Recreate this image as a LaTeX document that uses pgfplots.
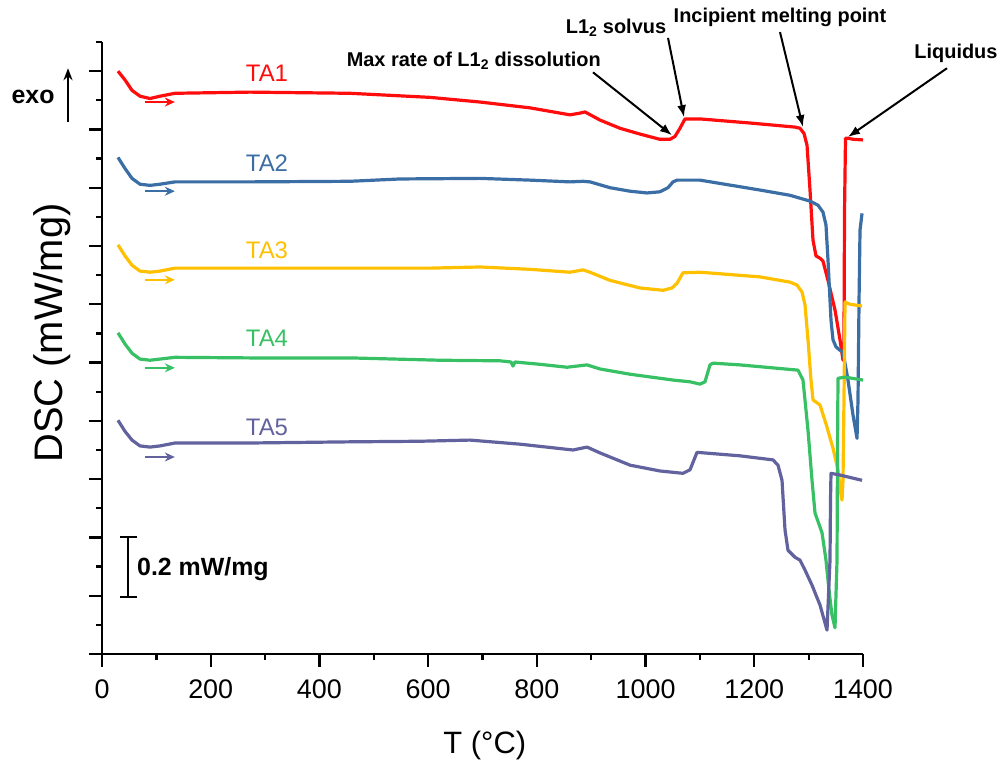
\documentclass[border=0pt]{standalone}
\usepackage{fontspec}
\setmainfont{Liberation Sans}
\usepackage{pgfplots}
\pgfplotsset{compat=1.18}
\usetikzlibrary{arrows.meta}
\definecolor{cA}{HTML}{FF0D0D}
\definecolor{cB}{HTML}{3A6EA5}
\definecolor{cC}{HTML}{FFC000}
\definecolor{cD}{HTML}{38C064}
\definecolor{cE}{HTML}{62629F}
\begin{document}
\begin{tikzpicture}
\useasboundingbox (0,0) rectangle (1005bp,765bp);
\begin{axis}[
 at={(102bp,111bp)}, anchor=south west,
 scale only axis, width=761bp, height=612bp,
 xmin=0, xmax=1400, ymin=0, ymax=10.5,
 axis x line*=bottom, axis y line*=left,
 axis line style={line width=2.4bp, black},
 xtick={0,200,...,1400}, minor xtick={100,300,...,1300},
 ytick={0,...,10}, minor ytick={0.5,1.5,...,10.5},
 yticklabels={},
 tick align=outside,
 major tick length=13bp, minor tick length=6bp,
 every tick/.style={line width=2.3bp, black},
 tick label style={font=\fontsize{27}{32}\selectfont},
 xticklabel style={yshift=-9bp},
 /pgf/number format/assume math mode=true,
 /pgf/number format/1000 sep={},
 clip=false,
 xlabel={T (°C)},
 xlabel style={at={(axis description cs:0.503,-0.149)}, anchor=center, font=\fontsize{31}{36}\selectfont},
 ylabel={DSC (mW/mg)},
 ylabel style={at={(axis description cs:-0.0657,0.5245)}, anchor=center, font=\fontsize{40}{44}\selectfont},
 every axis plot/.append style={no markers, line width=3.2bp, line join=round},
]
% TA1
\addplot[cA] coordinates {(29.4,10.00)(42.3,9.85)(55.2,9.67)(69.9,9.57)(88.3,9.53)(106.7,9.57)(134.3,9.62)(272.3,9.64)(456.2,9.62)(603.4,9.55)(695.4,9.47)(787.4,9.37)(861.0,9.25)(879.4,9.28)(888.6,9.30)(916.2,9.16)(952.9,9.02)(989.7,8.92)(1026.5,8.83)(1044.9,8.83)(1054.1,8.88)(1063.3,9.02)(1072.5,9.18)(1100.1,9.18)(1192.1,9.11)(1274.9,9.04)(1284.1,9.02)(1291.5,8.93)(1297.0,8.73)(1302.5,7.96)(1308.0,7.10)(1313.5,6.83)(1320.9,6.79)(1326.4,6.74)(1335.6,6.41)(1348.5,5.90)(1357.7,5.39)(1363.2,5.04)(1365.0,5.40)(1366.0,7.60)(1367.8,8.85)(1371.5,8.85)(1382.5,8.83)(1400,8.82)};
% TA2
\addplot[cB] coordinates {(29.4,8.52)(42.3,8.33)(55.2,8.16)(69.9,8.06)(88.3,8.04)(106.7,8.06)(134.3,8.10)(272.3,8.10)(456.2,8.11)(548.2,8.15)(695.4,8.16)(787.4,8.13)(861.0,8.10)(884.9,8.11)(897.8,8.10)(934.6,8.00)(971.4,7.94)(1002.6,7.91)(1026.5,7.93)(1041.2,8.00)(1050.5,8.10)(1057.8,8.13)(1100.1,8.13)(1210.5,7.96)(1265.7,7.87)(1302.5,7.77)(1317.2,7.70)(1326.4,7.58)(1331.9,7.36)(1335.6,6.76)(1341.1,5.73)(1344.8,5.39)(1350.3,5.27)(1357.7,5.21)(1363.2,5.18)(1372.4,4.70)(1381.6,4.10)(1389.0,3.70)(1390.8,4.36)(1392.7,6.07)(1394.5,7.27)(1398.2,7.56)};
% TA3
\addplot[cC] coordinates {(29.4,7.02)(42.3,6.83)(55.2,6.67)(69.9,6.57)(88.3,6.55)(106.7,6.57)(134.3,6.62)(272.3,6.62)(456.2,6.62)(603.4,6.62)(695.4,6.64)(787.4,6.60)(861.0,6.55)(884.9,6.59)(897.8,6.55)(934.6,6.41)(989.7,6.28)(1032.1,6.24)(1048.6,6.28)(1057.8,6.36)(1068.8,6.54)(1100.1,6.55)(1210.5,6.47)(1265.7,6.38)(1278.6,6.33)(1287.8,6.21)(1293.3,5.99)(1298.8,5.39)(1304.3,4.70)(1308.0,4.36)(1315.4,4.31)(1320.9,4.27)(1331.9,3.95)(1344.8,3.53)(1354.0,3.16)(1359.5,2.73)(1361.4,2.64)(1363.2,2.98)(1365.0,4.36)(1366.9,6.04)(1376.1,6.00)(1398.2,5.97)};
% TA4
\addplot[cD] coordinates {(29.4,5.51)(42.3,5.32)(55.2,5.16)(69.9,5.06)(88.3,5.04)(106.7,5.06)(134.3,5.09)(272.3,5.08)(456.2,5.08)(621.8,5.04)(732.2,5.03)(752.4,5.01)(756.1,4.94)(759.8,5.01)(805.8,4.97)(855.5,4.92)(892.3,4.96)(916.2,4.89)(971.4,4.80)(1050.5,4.70)(1081.8,4.67)(1100.1,4.63)(1109.3,4.67)(1118.5,4.96)(1124.0,4.99)(1173.7,4.96)(1280.4,4.87)(1289.6,4.70)(1298.8,3.84)(1306.2,2.98)(1311.7,2.42)(1324.6,2.08)(1331.9,1.61)(1337.4,1.10)(1342.9,0.67)(1348.5,0.45)(1352.2,1.61)(1353.1,3.50)(1354.0,4.73)(1366.9,4.75)(1400,4.70)};
% TA5
\addplot[cE] coordinates {(29.4,4.01)(42.3,3.82)(55.2,3.67)(69.9,3.57)(88.3,3.55)(106.7,3.57)(134.3,3.62)(272.3,3.62)(456.2,3.64)(585.0,3.65)(677.0,3.67)(769.0,3.60)(866.5,3.50)(892.3,3.55)(916.2,3.45)(971.4,3.24)(1026.5,3.14)(1068.8,3.10)(1081.8,3.16)(1094.6,3.46)(1173.7,3.40)(1234.4,3.33)(1243.6,3.24)(1251.0,2.98)(1256.5,2.13)(1262.0,1.78)(1274.9,1.66)(1284.1,1.61)(1293.3,1.44)(1306.2,1.18)(1320.9,0.84)(1333.8,0.41)(1339.3,1.61)(1340.2,2.64)(1341.1,3.10)(1357.7,3.07)(1398.2,2.98)};
% direction arrows
\addplot[cA, line width=2.2bp, -{Stealth[length=10bp,width=9bp]}] coordinates {(79,9.47)(134,9.47)};
\addplot[cB, line width=2.2bp, -{Stealth[length=10bp,width=9bp]}] coordinates {(79,7.94)(134,7.94)};
\addplot[cC, line width=2.2bp, -{Stealth[length=10bp,width=9bp]}] coordinates {(79,6.42)(134,6.42)};
\addplot[cD, line width=2.2bp, -{Stealth[length=10bp,width=9bp]}] coordinates {(79,4.91)(134,4.91)};
\addplot[cE, line width=2.2bp, -{Stealth[length=10bp,width=9bp]}] coordinates {(79,3.38)(134,3.38)};
% labels
\node[text=cA, font=\fontsize{24}{28}\selectfont] at (axis cs:303.5,9.97) {TA1};
\node[text=cB, font=\fontsize{24}{28}\selectfont] at (axis cs:303.5,8.42) {TA2};
\node[text=cC, font=\fontsize{24}{28}\selectfont] at (axis cs:303.5,6.93) {TA3};
\node[text=cD, font=\fontsize{24}{28}\selectfont] at (axis cs:303.5,5.42) {TA4};
\node[text=cE, font=\fontsize{24}{28}\selectfont] at (axis cs:303.5,3.89) {TA5};
% annotations
\node[font=\bfseries\fontsize{20}{23}\selectfont] at (axis cs:684,10.17) {Max rate of L1\textsubscript{2} dissolution};
\draw[-{Latex[length=12bp,width=9bp]}, line width=2bp] (axis cs:903.3,9.98) -- (axis cs:1048.6,8.90);
\node[font=\bfseries\fontsize{20}{23}\selectfont] at (axis cs:945.6,10.75) {L1\textsubscript{2} solvus};
\draw[-{Latex[length=12bp,width=9bp]}, line width=2bp] (axis cs:1041.3,10.57) -- (axis cs:1070.7,9.21);
\node[font=\bfseries\fontsize{20}{23}\selectfont] at (axis cs:1247.3,10.93) {Incipient melting point};
\draw[-{Latex[length=12bp,width=9bp]}, line width=2bp] (axis cs:1247.3,10.67) -- (axis cs:1289.6,9.04);
\node[font=\bfseries\fontsize{20}{23}\selectfont] at (axis cs:1571,10.31) {Liquidus};
\draw[-{Latex[length=12bp,width=9bp]}, line width=2bp] (axis cs:1554.5,10.05) -- (axis cs:1372.4,8.87);
% exo
\node[font=\bfseries\fontsize{25}{28}\selectfont] at (axis cs:-126.9,9.55) {exo};
\draw[-{Stealth[length=12bp,width=9bp]}, line width=2.2bp] (axis cs:-62.5,9.13) -- (axis cs:-62.5,10.05);
% scale bar
\draw[line width=2.6bp] (axis cs:47.8,2.01) -- (axis cs:47.8,0.98);
\draw[line width=2.6bp] (axis cs:33.1,2.01) -- (axis cs:64.4,2.01);
\draw[line width=2.6bp] (axis cs:33.1,0.98) -- (axis cs:64.4,0.98);
\node[anchor=west, inner sep=0pt, font=\bfseries\fontsize{25}{28}\selectfont] at (axis cs:64.4,1.45) {0.2 mW/mg};
\end{axis}
\end{tikzpicture}
\end{document}
